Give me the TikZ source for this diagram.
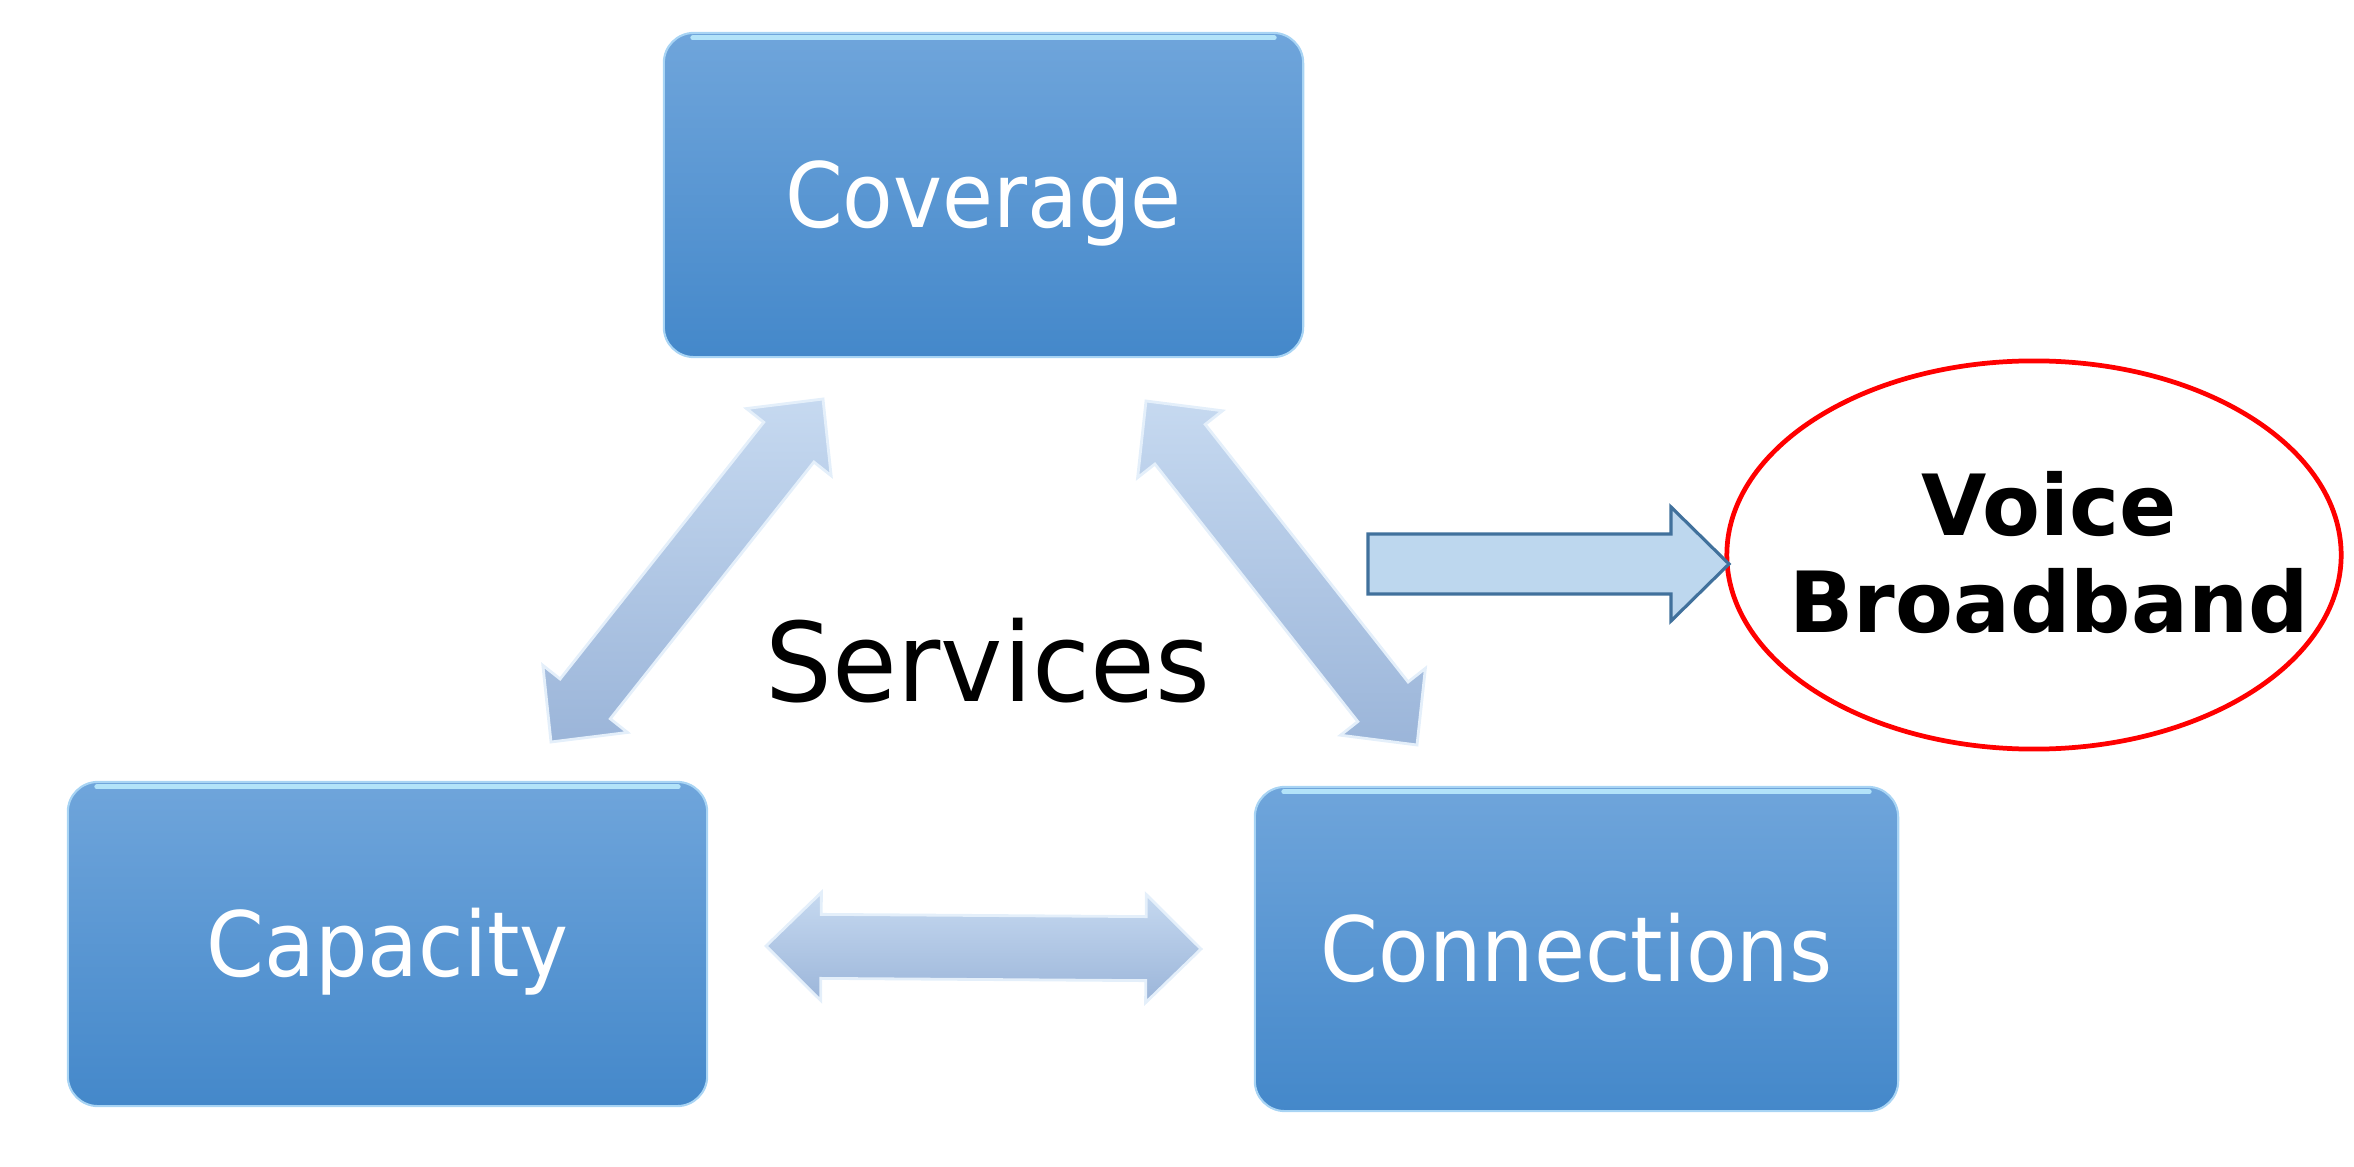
\documentclass[tikz,border=0pt]{standalone}
\usepackage{fontspec}
\setmainfont{DejaVu Sans}
\newfontfamily\boxfont[FakeStretch=0.92]{DejaVu Sans}
\newfontfamily\svcfont[FakeStretch=0.96]{DejaVu Sans}
\usetikzlibrary{calc,shapes.geometric}
\definecolor{boxtop}{HTML}{6FA5DB}
\definecolor{boxbot}{HTML}{4488CA}
\definecolor{boxedge}{HTML}{A8D4F4}
\definecolor{boxhl}{HTML}{BFEFFF}
\definecolor{arrtop}{HTML}{C6D9F0}
\definecolor{arrbot}{HTML}{9BB5D9}
\definecolor{arredge}{HTML}{E4EFFA}
\definecolor{sarrfill}{HTML}{BDD7EE}
\definecolor{sarrdraw}{HTML}{41719C}
\definecolor{ellred}{HTML}{FF0000}
\tikzset{
  bluebox/.style={rounded corners=0.3cm, top color=boxtop, bottom color=boxbot,
    draw=boxedge, line width=0.6pt, minimum width=6.39cm, minimum height=3.24cm,
    text height=18.66pt, text depth=0pt, inner sep=0pt,
    font=\boxfont\fontsize{25.6}{30}\selectfont, text=white},
  boxhighlight/.style={draw=boxhl, line width=1.4pt, line cap=round, opacity=0.85},
  dblfill/.style={top color=arrtop, bottom color=arrbot, draw=arredge, line width=0.8pt},
  sarrow/.style={fill=sarrfill, draw=sarrdraw, line width=0.9pt, line join=miter},
}
\newcommand\dblarrow[3]{%
  \coordinate (#1h1) at ($(#2)!0.55cm!(#3)$);
  \coordinate (#1h2) at ($(#3)!0.55cm!(#2)$);
  \path[dblfill] (#2) -- ($(#1h1)!0.54cm!90:(#3)$) -- ($(#1h1)!0.32cm!90:(#3)$)
    -- ($(#1h2)!0.32cm!-90:(#2)$) -- ($(#1h2)!0.54cm!-90:(#2)$) -- (#3)
    -- ($(#1h2)!0.54cm!90:(#2)$) -- ($(#1h2)!0.32cm!90:(#2)$)
    -- ($(#1h1)!0.32cm!-90:(#3)$) -- ($(#1h1)!0.54cm!-90:(#3)$) -- cycle;
}
\begin{document}
\begin{tikzpicture}[x=0.01cm,y=-0.01cm]
\useasboundingbox (0,0) rectangle (2354,1167);

% boxes
\node[bluebox] (coverage) at (983.5,195) {Coverage};
\node[bluebox] (capacity) at (387.5,944) {Capacity};
\node[bluebox, minimum width=6.43cm] (connections) at (1576.5,949) {Connections};
\foreach \b in {coverage,capacity,connections}{
  \draw[boxhighlight] ([xshift=0.3cm,yshift=-0.06cm]\b.north west) -- ([xshift=-0.3cm,yshift=-0.06cm]\b.north east);
}

% double arrows between boxes
\coordinate (l1) at (551,742);
\coordinate (l2) at (823,399);
\dblarrow{la}{l1}{l2}
\coordinate (r1) at (1146,401);
\coordinate (r2) at (1417,745);
\dblarrow{ra}{r1}{r2}
\coordinate (h1) at (766,946);
\coordinate (h2) at (1201,949);
\dblarrow{ha}{h1}{h2}

% centre text
\node[font=\svcfont\fontsize{31.2}{36}\selectfont, anchor=base] (services) at (988,701) {Services};

% ellipse
\node[ellipse, draw=ellred, line width=1.35pt, minimum width=6.14cm, minimum height=3.88cm] (vb) at (2034,555) {};
\node[font=\bfseries\fontsize{24}{27.6}\selectfont, align=center] (vbtext) at (2049,553) {Voice\\Broadband};

% single arrow to the ellipse
\coordinate (sa) at (1368,564);
\coordinate (ta) at (1729,564);
\path[sarrow] ($(sa)+(0,-30)$) -- ($(ta)+(-58,-30)$) -- ($(ta)+(-58,-57)$) -- (ta)
  -- ($(ta)+(-58,57)$) -- ($(ta)+(-58,30)$) -- ($(sa)+(0,30)$) -- cycle;
\end{tikzpicture}
\end{document}
